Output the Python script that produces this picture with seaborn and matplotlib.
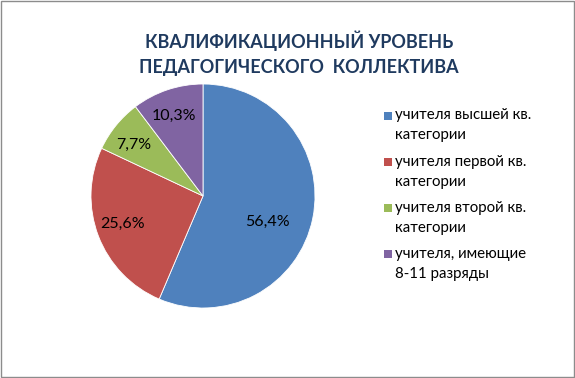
import matplotlib
matplotlib.use("Agg")
import matplotlib.pyplot as plt
import seaborn as sns
import numpy as np
from matplotlib.patches import Rectangle

categories = [
    "учителя высшей кв.\nкатегории",
    "учителя первой кв.\nкатегории",
    "учителя второй кв.\nкатегории",
    "учителя, имеющие\n8-11 разряды",
]
values = [56.4, 25.6, 7.7, 10.3]
pct_labels = ["56,4%", "25,6%", "7,7%", "10,3%"]
title = "КВАЛИФИКАЦИОННЫЙ УРОВЕНЬ\nПЕДАГОГИЧЕСКОГО  КОЛЛЕКТИВА"

sns.set_theme(style="white")
plt.rcParams["font.family"] = ["Lato", "DejaVu Sans"]
colors = sns.color_palette(["#4F81BD", "#C0504D", "#9BBB59", "#8064A2"])

W, H = 575, 378
fig = plt.figure(figsize=(W / 100, H / 100), dpi=100)
fig.patch.set_facecolor("white")

# pie axes: center (203,196) px, radius 112 px
cx, cy, r = 203, 196, 112
ax = fig.add_axes([(cx - r) / W, (H - cy - r) / H, 2 * r / W, 2 * r / H])
wedges, _ = ax.pie(values, colors=colors, startangle=90, counterclock=False,
                   radius=1, wedgeprops=dict(edgecolor="white", linewidth=0.6))
ax.set_xlim(-1, 1)
ax.set_ylim(-1, 1)
ax.set_aspect("equal")
ax.axis("off")

# label placement (radius fraction, angle in degrees)
label_pos = [(0.62, -22), (0.76, 199), (0.77, 144), (0.76, 110)]
for txt, (rr, ang) in zip(pct_labels, label_pos):
    a = np.deg2rad(ang)
    ax.text(rr * np.cos(a), rr * np.sin(a), txt, ha="center", va="center",
            fontsize=11.5, color="#000000")

fig.text(299 / W, 1 - 53 / H, title, ha="center", va="center", fontsize=13,
         fontweight="bold", color="#1F3A5F", linespacing=1.55)

# legend (drawn as figure text + square keys)
leg_top, leg_pitch, line_pitch = 115.5, 46.2, 20
sq = 8
for i, (cat, c) in enumerate(zip(categories, colors)):
    y0 = leg_top + i * leg_pitch
    fig.add_artist(Rectangle((384 / W, 1 - (y0 + sq / 2) / H), sq / W, sq / H,
                             transform=fig.transFigure, facecolor=c,
                             edgecolor="none"))
    for j, line in enumerate(cat.split("\n")):
        fig.text(395 / W, 1 - (y0 + j * line_pitch) / H, line, ha="left",
                 va="center", fontsize=10.8, color="#000000")

fig.add_artist(Rectangle((1 / W, 1 / H), 1 - 2 / W, 1 - 2 / H,
                         transform=fig.transFigure, fill=False,
                         edgecolor="#8C8C8C", linewidth=1))

fig.savefig("out.png", dpi=100)
